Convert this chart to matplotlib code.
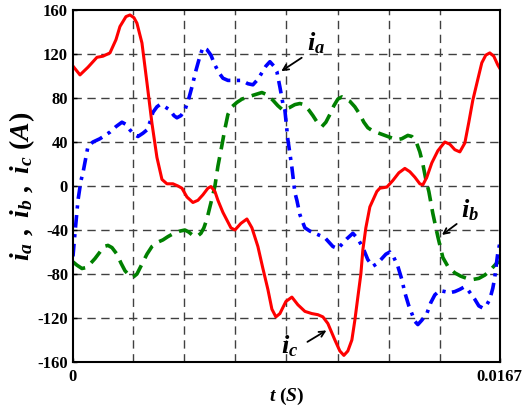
import numpy as np
import matplotlib
matplotlib.use("Agg")
import matplotlib.pyplot as plt

# ---- data (time in ms, current in A) ---------------------------------
t_c_ms = [0, 0.274, 0.587, 0.939, 1.173, 1.447, 1.682, 1.838, 2.073, 2.229,
          2.386, 2.503, 2.699, 2.894, 3.090, 3.285, 3.481, 3.676, 3.911, 4.107,
          4.263, 4.459, 4.693, 4.889, 5.084, 5.280, 5.397, 5.554, 5.671, 5.867,
          6.023, 6.179, 6.336, 6.570, 6.805, 7.001, 7.235, 7.431, 7.626, 7.783,
          7.939, 8.096, 8.330, 8.565, 8.800, 9.074, 9.347, 9.582, 9.778, 9.973,
          10.247, 10.442, 10.599, 10.755, 10.912, 11.029, 11.146, 11.264, 11.342,
          11.459, 11.616, 11.733, 11.889, 12.007, 12.281, 12.515, 12.750, 12.985,
          13.180, 13.376, 13.571, 13.689, 13.845, 14.040, 14.275, 14.549, 14.744,
          14.940, 15.136, 15.331, 15.488, 15.644, 15.840, 15.996, 16.152, 16.309,
          16.465, 16.622, 16.700]
i_c = [109, 101, 108, 117, 118, 121, 133, 145, 154, 155.5,
       153, 148, 130, 94, 57, 26, 6, 2, 2, 0,
       -2, -10, -15, -13, -8, -2, -0.5, -5, -13, -24,
       -31, -38, -40, -34, -30, -38, -55, -75, -94, -112,
       -119, -116, -105, -101, -108, -114, -116, -117, -119, -125,
       -140, -150, -154, -150, -140, -122, -101, -80, -58,
       -38, -19, -13, -5, -2, -1, 5, 12, 16,
       13, 8, 2, 1, 8, 21, 32, 40, 38,
       33, 31, 39, 58, 78, 97, 112, 119, 121,
       118, 110, 107]

t_a_ms = [0, 0.078, 0.196, 0.313, 0.391, 0.587, 0.782, 1.056, 1.447, 1.682,
          1.916, 2.073, 2.229, 2.386, 2.542, 2.738, 2.894, 3.011, 3.129, 3.285,
          3.403, 3.598, 3.794, 3.950, 4.067, 4.224, 4.380, 4.537, 4.654, 4.811,
          4.967, 5.084, 5.241, 5.397, 5.554, 5.710, 5.867, 6.062, 6.258, 6.453,
          6.610, 6.844, 7.040, 7.235, 7.392, 7.548, 7.705, 7.861, 7.978, 8.096,
          8.213, 8.291, 8.409, 8.565, 8.682, 8.761, 8.878, 8.956, 9.074, 9.269,
          9.465, 9.660, 9.856, 10.012, 10.169, 10.364, 10.521, 10.716, 10.951,
          11.146, 11.342, 11.537, 11.733, 11.929, 12.085, 12.242, 12.398, 12.555,
          12.711, 12.867, 12.985, 13.141, 13.259, 13.376, 13.493, 13.650, 13.845,
          14.001, 14.158, 14.354, 14.549, 14.744, 14.940, 15.136, 15.292, 15.409,
          15.566, 15.722, 15.879, 16.035, 16.191, 16.309, 16.426, 16.504, 16.583,
          16.622, 16.700]
i_a = [-64, -43, -13, 5, 12, 36, 40, 43, 49, 54,
       58, 56, 51, 47, 45, 48, 51, 58, 67, 72,
       74, 72, 69, 64, 62, 64, 69, 80, 90, 105,
       118, 126, 124, 119, 110, 103, 98, 96, 96, 96,
       96, 93, 92, 97, 103, 109, 113, 109, 104, 90,
       75, 69, 42, 17, -6, -13, -26, -31, -38, -41,
       -43, -45, -47, -51, -55, -57, -53, -48, -43,
       -48, -56, -67, -73, -70, -66, -62, -60, -65,
       -73, -85, -97, -109, -116, -123, -126, -122, -116,
       -106, -99, -95, -96, -97, -96, -94, -92, -93,
       -98, -103, -109, -111, -108, -103, -93, -83, -68,
       -61, -52]

t_b_ms = [0, 0.156, 0.352, 0.548, 0.704, 0.860, 1.056, 1.212, 1.369, 1.525,
          1.721, 1.877, 2.034, 2.190, 2.347, 2.503, 2.699, 2.894, 3.090, 3.324,
          3.520, 3.716, 3.950, 4.185, 4.380, 4.537, 4.693, 4.850, 5.006, 5.123,
          5.241, 5.358, 5.475, 5.554, 5.671, 5.827, 5.945, 6.062, 6.219, 6.414,
          6.610, 6.844, 7.118, 7.392, 7.587, 7.822, 8.017, 8.213, 8.448, 8.682,
          8.878, 9.034, 9.230, 9.387, 9.582, 9.738, 9.895, 10.051, 10.208, 10.364,
          10.521, 10.677, 10.834, 11.029, 11.225, 11.381, 11.537, 11.733, 11.968,
          12.203, 12.437, 12.672, 12.867, 13.102, 13.259, 13.415, 13.571, 13.689,
          13.806, 13.924, 14.080, 14.275, 14.471, 14.666, 14.940, 15.175, 15.409,
          15.644, 15.879, 16.114, 16.309, 16.465, 16.583, 16.700]
i_b = [-69, -72, -75, -74, -70, -66, -60, -55, -54, -56,
       -62, -70, -77, -81, -83, -80, -71, -62, -55, -51,
       -49, -46, -43, -41, -40, -42, -45, -46, -43, -38,
       -30, -19, -8, 0, 18, 37, 52, 65, 72, 76,
       79, 81, 83, 85, 83, 78, 73, 69, 71, 74,
       75, 74, 69, 64, 57, 54, 58, 65, 73, 79,
       81, 79, 77, 72, 65, 58, 53, 50, 48,
       46, 44, 42, 43, 46, 45, 41, 31, 20,
       6, -5, -25, -46, -65, -73, -79, -82, -84,
       -85, -84, -81, -77, -73, -70, -69]

y_ticks = [-160, -120, -80, -40, 0, 40, 80, 120, 160]
t_end = 0.0167
x_grid = [0.00235, 0.00435, 0.00635, 0.00835, 0.01035, 0.01235, 0.01435]

# ---- figure ----------------------------------------------------------
plt.rcParams['font.family'] = 'Liberation Serif'
plt.rcParams['font.weight'] = 'bold'
plt.rcParams['axes.unicode_minus'] = False
plt.rcParams['mathtext.fontset'] = 'custom'
plt.rcParams['mathtext.rm'] = 'Liberation Serif:bold'
plt.rcParams['mathtext.it'] = 'Liberation Serif:italic:bold'
plt.rcParams['mathtext.bf'] = 'Liberation Serif:bold'

fig = plt.figure(figsize=(5.25, 4.12), dpi=100)
ax = fig.add_axes([0.139, 0.1214, 0.813, 0.8543])

ax.plot(np.array(t_b_ms) * 1e-3, i_b, color='#008000', lw=2.6,
        dashes=(4.0, 2.2))
ax.plot(np.array(t_a_ms) * 1e-3, i_a, color='#0000ff', lw=2.6,
        dashes=(3.5, 1.8, 0.9, 1.8))
ax.plot(np.array(t_c_ms) * 1e-3, i_c, color='#ff0000', lw=2.2)

ax.set_xlim(0, t_end)
ax.set_ylim(-160, 160)
ax.set_yticks(y_ticks)
ax.set_xticks([0, t_end])
ax.set_xticklabels(['0', '0.0167'])
ax.tick_params(direction='in', length=3, labelsize=12, width=1)
ax.tick_params(axis='x', pad=5)

# dashed grid
for g in x_grid:
    ax.axvline(g, color='#404040', lw=1.0, dashes=(6, 4), zorder=0)
for g in y_ticks[1:-1]:
    ax.axhline(g, color='#404040', lw=1.0, dashes=(6, 4), zorder=0)

for s in ax.spines.values():
    s.set_linewidth(1.5)

ax.set_xlabel(r'$t$ $(S)$', fontsize=14, labelpad=1)
ax.set_ylabel(r'$i_a\ ,\ i_b\ ,\ i_c\ (A)$', fontsize=20, labelpad=0)

# labels with arrows
ax.annotate('', xy=(0.00806, 103), xytext=(0.00904, 118),
            arrowprops=dict(arrowstyle='->', color='k', lw=1.3))
ax.text(0.00915, 130, r'$i_a$', fontsize=19, ha='left', va='center')

ax.annotate('', xy=(0.01435, -46), xytext=(0.01510, -33),
            arrowprops=dict(arrowstyle='->', color='k', lw=1.3))
ax.text(0.01520, -22, r'$i_b$', fontsize=19, ha='left', va='center')

ax.annotate('', xy=(0.01001, -130), xytext=(0.00908, -143),
            arrowprops=dict(arrowstyle='->', color='k', lw=1.3))
ax.text(0.00815, -146, r'$i_c$', fontsize=19, ha='left', va='center')

fig.savefig('out.png', dpi=100)
